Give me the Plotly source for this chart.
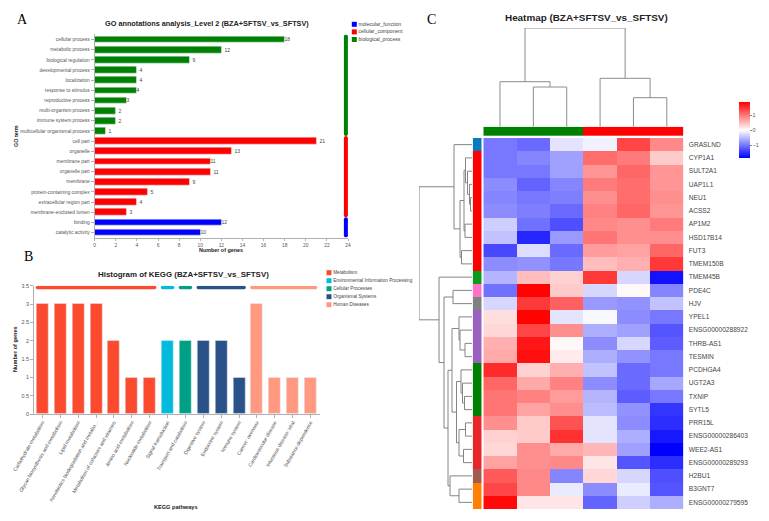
import plotly.graph_objects as go

W, H = 769, 521

# panel A - GO terms
bp_terms = ['cellular process', 'metabolic process', 'biological regulation', 'developmental process',
            'localization', 'response to stimulus', 'reproductive process', 'multi-organism process',
            'immune system process', 'multicellular organismal process']
bp_counts = [18, 12, 9, 4, 4, 4, 3, 2, 2, 1]
cc_terms = ['cell part', 'organelle', 'membrane part', 'organelle part', 'membrane',
            'protein-containing complex', 'extracellular region part', 'membrane-enclosed lumen']
cc_counts = [21, 13, 11, 11, 9, 5, 4, 3]
mf_terms = ['binding', 'catalytic activity']
mf_counts = [12, 10]
go_legend = ['molecular_function', 'cellular_component', 'biological_process']
go_colors = ['#0000ff', '#ff0000', '#008000']

# panel B - KEGG
met_paths = ['Carbohydrate metabolism', 'Glycan biosynthesis and metabolism', 'Lipid metabolism',
             'Xenobiotics biodegradation and metabo...', 'Metabolism of cofactors and vitamins',
             'Amino acid metabolism', 'Nucleotide metabolism']
met_counts = [3, 3, 3, 3, 2, 1, 1]
env_paths = ['Signal transduction']
env_counts = [2]
cel_paths = ['Transport and catabolism']
cel_counts = [2]
org_paths = ['Digestive system', 'Endocrine system', 'Immune system']
org_counts = [2, 2, 1]
hum_paths = ['Cancer: overview', 'Cardiovascular disease', 'Infectious disease: viral', 'Substance dependence']
hum_counts = [3, 1, 1, 1]
kegg_legend = ['Metabolism', 'Environmental Information Processing', 'Cellular Processes',
               'Organismal Systems', 'Human Diseases']
kegg_colors = ['#fb4a2e', '#00bbdc', '#00a087', '#2b5288', '#ff9a80']

# panel C - heatmap
genes = ['GRASLND', 'CYP1A1', 'SULT2A1', 'UAP1L1', 'NEU1', 'ACSS2', 'AP1M2', 'HSD17B14', 'FUT3', 'TMEM150B',
         'TMEM45B', 'PDE4C', 'HJV', 'YPEL1', 'ENSG00000288922', 'THRB-AS1', 'TESMIN', 'PCDHGA4', 'UGT2A3',
         'TXNIP', 'SYTL5', 'PRR15L', 'ENSG00000286403', 'WEE2-AS1', 'ENSG00000289293', 'H2BU1', 'B3GNT7',
         'ENSG00000279595']
expr = [
    [-1.0, -1.1, -0.2, -0.1, 1.4, 0.9],
    [-1.0, -0.9, -0.7, 1.1, 1.0, 0.4],
    [-1.0, -1.0, -0.7, 0.8, 1.15, 0.8],
    [-0.85, -1.15, -0.9, 1.0, 1.1, 0.8],
    [-0.9, -1.0, -0.95, 0.85, 1.1, 0.85],
    [-0.85, -0.95, -1.1, 0.95, 1.15, 0.8],
    [-0.35, -1.05, -1.3, 0.9, 0.85, 1.0],
    [-0.45, -1.6, -0.75, 1.05, 0.85, 0.85],
    [-1.35, -0.25, -1.1, 0.75, 0.7, 1.15],
    [-0.85, -0.8, -1.0, 0.5, 0.6, 1.5],
    [-0.55, 0.5, 0.35, 1.5, -0.3, -1.75],
    [-1.05, 1.9, 0.4, -0.3, 0.05, -0.9],
    [-0.3, 1.5, 1.2, -0.75, -0.8, -0.45],
    [0.25, 1.9, -0.2, -0.05, -0.85, -1.0],
    [0.3, 1.4, 0.85, -0.6, -0.7, -1.25],
    [0.6, 1.75, 0.05, -0.85, -0.3, -1.2],
    [0.65, 1.8, 0.15, -0.6, -0.8, -1.0],
    [1.6, 0.35, 0.6, -0.45, -1.1, -1.0],
    [1.15, 0.65, 0.95, -0.85, -1.1, -0.65],
    [1.05, 0.95, 0.75, -0.55, -1.2, -1.0],
    [1.05, 0.7, 0.85, -0.5, -0.8, -1.5],
    [0.85, 0.4, 1.3, -0.2, -0.85, -1.55],
    [0.35, 0.4, 1.55, -0.2, -0.6, -1.7],
    [0.3, 0.85, 0.65, 0.55, -0.7, -1.9],
    [0.7, 0.85, 0.9, 0.2, -1.25, -1.55],
    [1.25, 0.9, -0.9, 0.3, -0.3, -1.3],
    [1.4, 0.9, -0.15, -0.85, -0.15, -1.25],
    [1.85, 0.2, 0.2, -1.15, -0.35, -0.6],
]
row_groups = [0, 1, 1, 1, 1, 1, 1, 1, 1, 1, 2, 3, 4, 5, 5, 5, 5, 6, 6, 6, 6, 7, 7, 7, 7, 8, 9, 9]
row_colors = ['#0a7abf', '#ff0000', '#0b9a1e', '#ff70c8', '#808080', '#9c60c0', '#008000', '#e8252a', '#a05a50', '#ff8000']
col_groups = [0, 0, 0, 1, 1, 1]

# dendrograms as (height, left, right), leaves are row/column numbers
row_tree = (53,
            (18, 0, (12,
                     (8, (6.5, 1, (4.5, 2, (2.5, 3, (1.5, 4, 5)))), (7, 6, 7)),
                     (10.5, 8, 9))),
            (33, 10, (28,
                      (19, 11, 12),
                      (24,
                       (20,
                        (13, 13, (12, 14, (7, 15, 16))),
                        (15.5,
                         (11, 17, (9.5, 18, (7.5, 19, 20))),
                         (13, (6.5, 21, 22), (8.5, 23, 24)))),
                       (22, 25, (13, 26, 27))))))
col_tree = (98.7,
            (45, 0, (39.7, 1, 2)),
            (48.4, 3, (29, 4, 5)))


def dom_x(a, b):
    return [a / W, b / W]


def dom_y(top, bottom):
    return [1 - bottom / H, 1 - top / H]


def tree_lines(node, xs, ys):
    # returns (position, height), fills the elbow segments
    if not isinstance(node, tuple):
        return node, 0
    h, left, right = node
    p1, h1 = tree_lines(left, xs, ys)
    p2, h2 = tree_lines(right, xs, ys)
    xs += [p1, p1, p2, p2, None]
    ys += [h1, h, h, h2, None]
    return (p1 + p2) / 2, h


label_grey = '#555555'
axis_grey = '#b0b0b0'
font = 'Liberation Sans'
fig = go.Figure()

# panel A
go_terms = bp_terms + cc_terms + mf_terms
pos = 0
for terms, counts, color in [(bp_terms, bp_counts, go_colors[2]), (cc_terms, cc_counts, go_colors[1]),
                             (mf_terms, mf_counts, go_colors[0])]:
    rows = list(range(pos, pos + len(terms)))
    fig.add_bar(x=counts, y=rows, orientation='h', marker_color=color, width=0.66, text=counts,
                textposition='outside', textfont=dict(size=5, color='#444444'), cliponaxis=False,
                constraintext='none', showlegend=False, xaxis='x', yaxis='y')
    fig.add_scatter(x=[23.8, 23.8], y=[rows[0] - 0.3, rows[-1] + 0.3], mode='lines+markers',
                    line=dict(color=color, width=4), marker=dict(color=color, size=4),
                    showlegend=False, xaxis='x', yaxis='y')
    pos += len(terms)

# panel B
kegg_paths = met_paths + env_paths + cel_paths + org_paths + hum_paths
pos = 0
for paths, counts, color in [(met_paths, met_counts, kegg_colors[0]), (env_paths, env_counts, kegg_colors[1]),
                             (cel_paths, cel_counts, kegg_colors[2]), (org_paths, org_counts, kegg_colors[3]),
                             (hum_paths, hum_counts, kegg_colors[4])]:
    cols = list(range(pos, pos + len(paths)))
    fig.add_bar(x=cols, y=counts, marker_color=color, width=0.67, showlegend=False, xaxis='x2', yaxis='y2')
    fig.add_scatter(x=[cols[0] - 0.28, cols[-1] + 0.28], y=[3.45, 3.45], mode='lines+markers',
                    line=dict(color=color, width=3.5), marker=dict(color=color, size=3.5),
                    showlegend=False, xaxis='x2', yaxis='y2')
    pos += len(paths)

# legends of A and B
for names, colors, xa, ya, size in [(go_legend, go_colors, 'x3', 'y3', 5.1), (kegg_legend, kegg_colors, 'x4', 'y4', 4.7)]:
    fig.add_scatter(x=[0] * len(names), y=list(range(len(names))), mode='markers+text', text=names,
                    textposition='middle right', textfont=dict(size=size, color='#444444'),
                    marker=dict(symbol='square', size=5, color=colors), cliponaxis=False,
                    showlegend=False, xaxis=xa, yaxis=ya)

# panel C
gene_rows = list(range(len(genes)))
fig.add_heatmap(z=expr, x=list(range(6)), y=gene_rows, xaxis='x5', yaxis='y5', zmin=-1.88, zmax=1.92,
                colorscale=[[0, '#0000ff'], [0.495, '#ffffff'], [1, '#ff0000']],
                colorbar=dict(x=739 / W, xanchor='left', y=1 - 130 / H, yanchor='middle', thickness=11,
                              thicknessmode='pixels', len=56, lenmode='pixels', xpad=0, ypad=0,
                              outlinewidth=0, tickvals=[-1, 0, 1], ticks='outside', ticklen=2,
                              tickcolor='#888888', tickfont=dict(size=5.5, color=label_grey, family=font)))
fig.add_heatmap(z=[col_groups], xaxis='x5', yaxis='y6', showscale=False, zmin=0, zmax=1,
                colorscale=[[0, '#008000'], [0.5, '#008000'], [0.5, '#ff0000'], [1, '#ff0000']])
n_grp = len(row_colors)
row_scale = []
for i, c in enumerate(row_colors):
    row_scale += [[i / n_grp, c], [(i + 1) / n_grp, c]]
fig.add_heatmap(z=[[g] for g in row_groups], y=gene_rows, xaxis='x7', yaxis='y5', showscale=False,
                zmin=-0.5, zmax=n_grp - 0.5, colorscale=row_scale)

xs, ys = [], []
tree_lines(col_tree, xs, ys)
fig.add_scatter(x=xs, y=ys, mode='lines', line=dict(color='#8c8c8c', width=1), showlegend=False,
                xaxis='x5', yaxis='y8')
xs, ys = [], []
tree_lines(row_tree, xs, ys)
fig.add_scatter(x=ys, y=xs, mode='lines', line=dict(color='#777777', width=0.9), showlegend=False,
                xaxis='x9', yaxis='y5')

hidden = dict(visible=False, fixedrange=True)
tick_font = dict(size=4.9, color=label_grey, family=font)
fig.update_layout(
    width=W, height=H, margin=dict(l=0, r=0, t=0, b=0, autoexpand=False), paper_bgcolor='white', plot_bgcolor='white',
    font=dict(family=font), bargap=0,
    # A
    xaxis=dict(domain=dom_x(94.7, 348), range=[0, 24], tickvals=list(range(0, 25, 2)), showgrid=False,
               showline=True, linecolor=axis_grey, linewidth=1, ticks='outside', ticklen=2.5, tickcolor=axis_grey,
               tickfont=tick_font, zeroline=False, anchor='y'),
    yaxis=dict(domain=dom_y(34.4, 237.6), range=[19.5, -0.5], tickvals=list(range(len(go_terms))), ticktext=go_terms,
               showgrid=False, showline=True, linecolor=axis_grey, linewidth=1, ticks='outside', ticklen=3,
               tickcolor=axis_grey, tickfont=tick_font, zeroline=False, anchor='x'),
    # B
    xaxis2=dict(domain=dom_x(33.5, 319.5), range=[-0.5, 15.5], tickvals=list(range(len(kegg_paths))),
                ticktext=kegg_paths, tickangle=-60, showgrid=False, showline=True, linecolor=axis_grey, linewidth=1,
                ticks='outside', ticklen=2.5, tickcolor=axis_grey, tickfont=dict(size=5, color=label_grey, family=font),
                zeroline=False, anchor='y2'),
    yaxis2=dict(domain=dom_y(285.7, 414), range=[0, 3.5], tickvals=[0, 0.5, 1, 1.5, 2, 2.5, 3, 3.5], showgrid=False,
                showline=True, linecolor=axis_grey, linewidth=1, ticks='outside', ticklen=2.5, tickcolor=axis_grey,
                tickfont=dict(size=5.4, color=label_grey, family=font), zeroline=False, anchor='x2'),
    # legends
    xaxis3=dict(domain=dom_x(354.3, 400), range=[0, 1], anchor='y3', **hidden),
    yaxis3=dict(domain=dom_y(20.5, 43.3), range=[2.5, -0.5], anchor='x3', **hidden),
    xaxis4=dict(domain=dom_x(329, 400), range=[0, 1], anchor='y4', **hidden),
    yaxis4=dict(domain=dom_y(268.7, 308.7), range=[4.5, -0.5], anchor='x4', **hidden),
    # C
    xaxis5=dict(domain=dom_x(483.3, 683.5), range=[-0.5, 5.5], anchor='y5', **hidden),
    yaxis5=dict(domain=dom_y(138, 509), range=[27.5, -0.5], tickvals=gene_rows, ticktext=genes, side='right',
                anchor='x5', ticks='outside', ticklen=3, tickcolor='rgba(0,0,0,0)', showgrid=False, zeroline=False,
                showline=False, tickfont=dict(size=6.6, color='#444444', family=font)),
    yaxis6=dict(domain=dom_y(126.7, 136), anchor='x5', **hidden),
    xaxis7=dict(domain=dom_x(472.7, 481.7), anchor='y5', **hidden),
    yaxis8=dict(domain=dom_y(28, 126.7), range=[0, 98.7], anchor='x5', **hidden),
    xaxis9=dict(domain=dom_x(419, 472), range=[53, 0], anchor='y5', **hidden),
)

notes = [
    ('A', 22, 20, 14, 'Liberation Serif', 'black', False, 0),
    ('B', 28, 256, 14, 'Liberation Serif', 'black', False, 0),
    ('C', 431, 20, 14, 'Liberation Serif', 'black', False, 0),
    ('GO annotations analysis_Level 2 (BZA+SFTSV_vs_SFTSV)', 206.5, 24, 7.3, font, '#222222', True, 0),
    ('Histogram of KEGG (BZA+SFTSV_vs_SFTSV)', 183.5, 274, 7.9, font, '#222222', True, 0),
    ('Heatmap (BZA+SFTSV_vs_SFTSV)', 586.5, 17, 9.9, font, '#222222', True, 0),
    ('Number of genes', 221, 250, 5.4, font, '#222222', True, 0),
    ('GO term', 16, 136, 5.4, font, '#222222', True, -90),
    ('Number of genes', 15, 349, 5.6, font, '#222222', True, -90),
    ('KEGG pathways', 176, 507, 5.6, font, '#222222', True, 0),
]
for text, x, y, size, family, color, bold, angle in notes:
    fig.add_annotation(text='<b>%s</b>' % text if bold else text, x=x / W, y=1 - y / H, xref='paper', yref='paper',
                       xanchor='center', yanchor='middle', showarrow=False, textangle=angle,
                       font=dict(size=size, family=family, color=color))

fig.write_html("out.html", config={'displayModeBar': False}, post_script="document.body.style.margin='0';")
